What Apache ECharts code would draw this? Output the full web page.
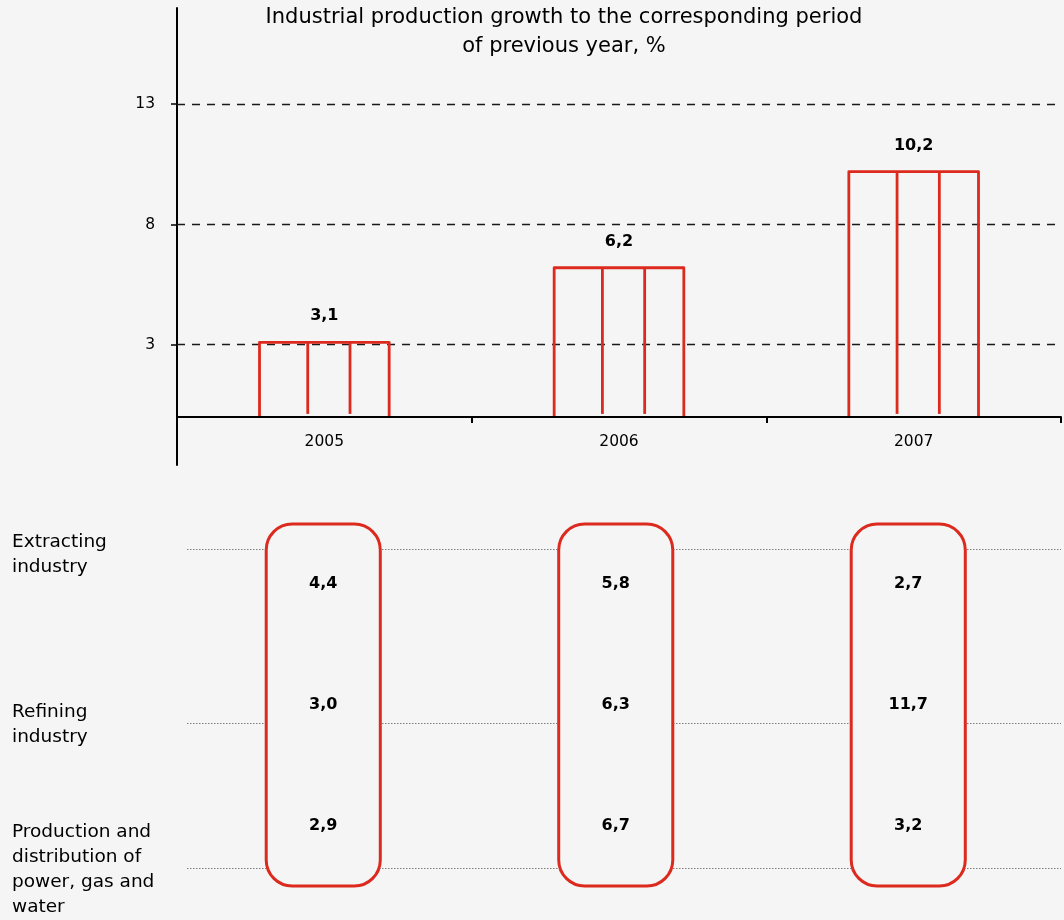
<!DOCTYPE html>
<html>
<head>
<meta charset="utf-8">
<title>Industrial production growth</title>
<script src="https://cdn.jsdelivr.net/npm/echarts@6/dist/echarts.min.js"></script>
<style>
  html, body { margin: 0; padding: 0; background: #f5f5f5; }
  #chart { width: 1064px; height: 920px; }
</style>
</head>
<body>
<div id="chart"></div>
<script>
// Years shown on both the bar chart and the breakdown table
const years = ['2005', '2006', '2007'];
// Total industrial production growth, % to the previous year
const totalGrowth = [3.1, 6.2, 10.2];
// Values marked on the vertical axis
const yTicks = [3, 8, 13];
// Industry rows of the breakdown table
const industries = [
  'Extracting\nindustry',
  'Refining\nindustry',
  'Production and\ndistribution of\npower, gas and\nwater'
];
const extracting = [4.4, 5.8, 2.7];
const refining = [3.0, 6.3, 11.7];
const powerGasWater = [2.9, 6.7, 3.2];

const RED = '#dc2a1e';
const BG = '#f5f5f5';
const FONT = 'DejaVu Sans';

const fmt = v => v.toFixed(1).replace('.', ',');

const chart = echarts.init(document.getElementById('chart'), null, { renderer: 'canvas' });

// Outlined bar split into three vertical sections, open at the base
function renderBar(params, api) {
  const i = api.value(0);
  const v = api.value(1);
  const base = api.coord([i, 0]);
  const top = api.coord([i, v]);
  const band = api.size([1, 0])[0];
  const w = band * 0.44;
  const x0 = base[0] - w / 2;
  const x1 = base[0] + w / 2;
  const d1 = x0 + w * 0.372;
  const d2 = x0 + w * 0.698;
  const stroke = { stroke: RED, lineWidth: 2.8, fill: null, lineJoin: 'round' };
  return {
    type: 'group',
    children: [
      { type: 'polyline', shape: { points: [[x0, base[1]], [x0, top[1]], [x1, top[1]], [x1, base[1]]] }, style: stroke },
      { type: 'line', shape: { x1: d1, y1: top[1], x2: d1, y2: base[1] - 3 }, style: stroke },
      { type: 'line', shape: { x1: d2, y1: top[1], x2: d2, y2: base[1] - 3 }, style: stroke },
      {
        type: 'text', x: base[0], y: top[1] - 26,
        style: { text: fmt(v), fontFamily: FONT, fontSize: 16, fontWeight: 'bold', fill: '#000', align: 'center', verticalAlign: 'middle' }
      }
    ]
  };
}

// Rounded frame around each year's column of the table
function renderFrame(params, api) {
  const cx = api.coord([api.value(0), 0])[0];
  const cs = params.coordSys;
  const w = api.size([1, 0])[0] * 0.39;
  return {
    type: 'rect',
    shape: { x: cx - w / 2, y: cs.y, width: w, height: cs.height, r: 26 },
    style: { fill: BG, stroke: RED, lineWidth: 3 }
  };
}

// One table cell value, placed at its year column and industry row
function renderCell(params, api) {
  const p = api.coord([api.value(0), api.value(1)]);
  return {
    type: 'text', x: p[0], y: p[1],
    style: { text: fmt(api.value(2)), fontFamily: FONT, fontSize: 16, fontWeight: 'bold', fill: '#000', align: 'center', verticalAlign: 'middle' }
  };
}

function tableSeries(values, row) {
  return {
    type: 'custom',
    xAxisIndex: 1,
    yAxisIndex: 1,
    z: 20,
    renderItem: renderCell,
    encode: { x: 0, y: 1 },
    data: values.map((v, i) => [i, row, v])
  };
}

// Row captions and dotted guide lines of the table
const rowCaptionTops = [529.5, 699.5, 820];
const guideLineY = [549.5, 723.5, 868.5];
const graphics = [];
industries.forEach((name, k) => {
  graphics.push({
    type: 'text', left: 12, top: rowCaptionTops[k], z: 1,
    style: { text: name, fontFamily: FONT, fontSize: 18.5, lineHeight: 25, fill: '#000' }
  });
  graphics.push({
    type: 'line', z: 0,
    shape: { x1: 187, y1: guideLineY[k], x2: 1061, y2: guideLineY[k] },
    style: { stroke: '#808080', lineWidth: 1.2, lineDash: [1.5, 1.5] }
  });
});

chart.setOption({
  backgroundColor: BG,
  animation: false,
  textStyle: { fontFamily: FONT },
  title: {
    text: 'Industrial production growth to the corresponding period\nof previous year, %',
    left: 559,
    top: -2,
    textAlign: 'center',
    textStyle: { fontFamily: FONT, fontSize: 21, fontWeight: 'normal', lineHeight: 29, color: '#000' }
  },
  graphic: graphics,
  grid: [
    { left: 177, right: 3, top: 8, height: 457 },
    { left: 177, right: 9.5, top: 524, height: 362 }
  ],
  xAxis: [
    {
      type: 'category',
      gridIndex: 0,
      data: years,
      z: 10,
      axisLine: { show: true, onZero: true, lineStyle: { color: '#000', width: 2 } },
      axisTick: { show: true, length: 6, lineStyle: { color: '#000', width: 2 } },
      axisLabel: { color: '#000', fontSize: 15.5, margin: -31.5 },
      splitLine: { show: false }
    },
    {
      type: 'category',
      gridIndex: 1,
      data: years,
      show: false
    }
  ],
  yAxis: [
    {
      type: 'value',
      gridIndex: 0,
      min: -2,
      max: 17,
      axisLine: { show: true, lineStyle: { color: '#000', width: 2 } },
      axisTick: { show: true, length: 6, customValues: yTicks, lineStyle: { color: '#000', width: 1.5 } },
      axisLabel: { color: '#000', fontSize: 15.5, margin: 22, customValues: yTicks },
      splitLine: { show: false }
    },
    {
      type: 'category',
      gridIndex: 1,
      data: industries,
      inverse: true,
      show: false
    }
  ],
  series: [
    {
      type: 'custom',
      name: 'Total',
      xAxisIndex: 0,
      yAxisIndex: 0,
      z: 5,
      renderItem: renderBar,
      encode: { x: 0, y: 1 },
      data: totalGrowth.map((v, i) => [i, v]),
      markLine: {
        silent: true,
        symbol: 'none',
        label: { show: false },
        z: 3,
        lineStyle: { type: [8, 7], color: '#1a1a1a', width: 1.3 },
        data: yTicks.map(v => ({ yAxis: v }))
      }
    },
    {
      type: 'custom',
      name: 'Frames',
      xAxisIndex: 1,
      yAxisIndex: 1,
      z: 10,
      renderItem: renderFrame,
      encode: { x: 0, y: 1 },
      data: years.map((_, i) => [i, 0])
    },
    tableSeries(extracting, 0),
    tableSeries(refining, 1),
    tableSeries(powerGasWater, 2)
  ]
});
</script>
</body>
</html>
